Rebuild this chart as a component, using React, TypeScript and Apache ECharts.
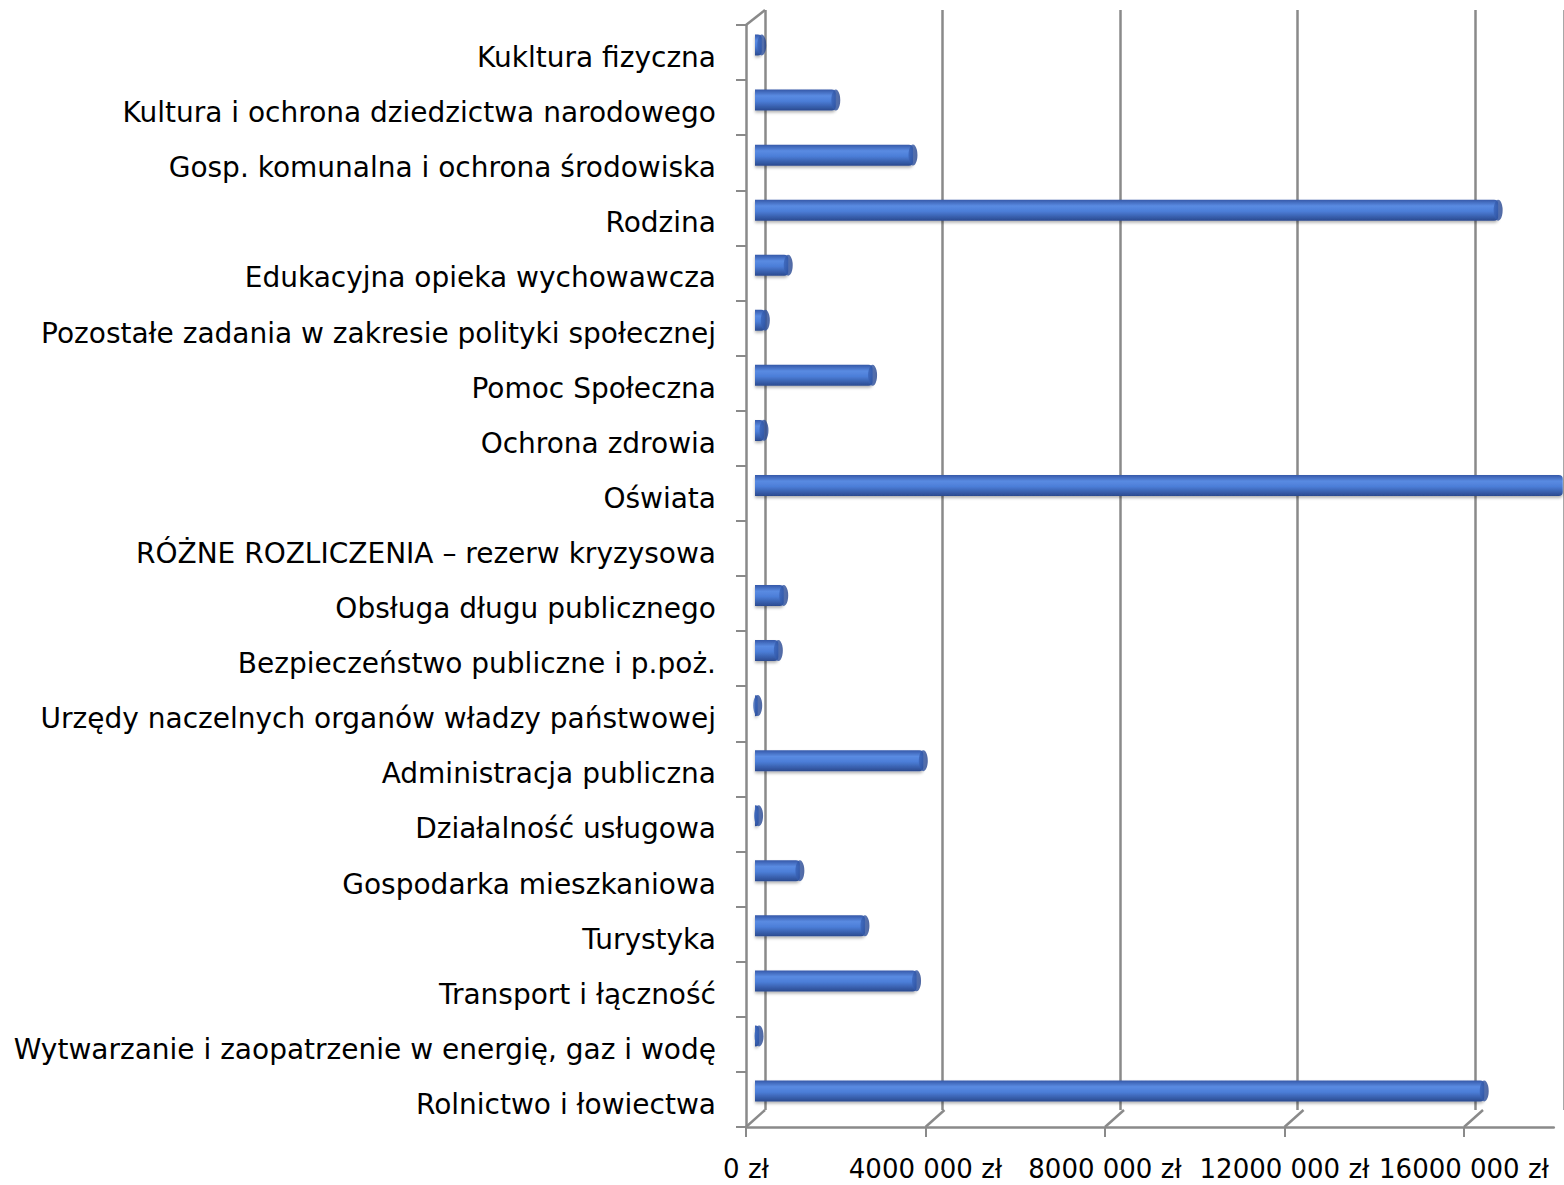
import React, { useEffect, useRef } from "react";
import * as echarts from "echarts";

// Categories listed bottom-to-top as they appear on the chart
const categories = [
  "Rolnictwo i łowiectwa",
  "Wytwarzanie i zaopatrzenie w energię, gaz i wodę",
  "Transport i łączność",
  "Turystyka",
  "Gospodarka mieszkaniowa",
  "Działalność usługowa",
  "Administracja publiczna",
  "Urzędy naczelnych organów władzy państwowej",
  "Bezpieczeństwo publiczne i p.poż.",
  "Obsługa długu publicznego",
  "RÓŻNE ROZLICZENIA – rezerw kryzysowa",
  "Oświata",
  "Ochrona zdrowia",
  "Pomoc Społeczna",
  "Pozostałe zadania w zakresie polityki społecznej",
  "Edukacyjna opieka wychowawcza",
  "Rodzina",
  "Gosp. komunalna i ochrona środowiska",
  "Kultura i ochrona dziedzictwa narodowego",
  "Kukltura fizyczna",
];

const values = [
  16250000, 90000, 3600000, 2450000, 1000000, 80000, 3750000, 60000, 520000, 640000,
  0, 18600000, 200000, 2620000, 230000, 740000, 16560000, 3520000, 1800000, 150000,
];

const tickValues = [0, 4000000, 8000000, 12000000, 16000000];
const tickLabels = ["0 zł", "4000 000 zł", "8000 000 zł", "12000 000 zł", "16000 000 zł"];

const AXIS_MAX = 18000000;
const STEP = 4000000;

export default function App() {
  const ref = useRef<HTMLDivElement>(null);
  useEffect(() => {
    if (!ref.current) return;
    const chart = echarts.init(ref.current, null, { renderer: "svg" });
    const pxPerStep = 179.5;
    const plotW = (AXIS_MAX / STEP) * pxPerStep;
    const backL = 765, backT = 10, backB = 1110;
    const frontL = 746, frontT = 25, frontB = 1127;
    const gray = "#8a8a8a";
    const font = "'DejaVu Sans', sans-serif";

    const floorDiagonals = tickValues.map((v) => {
      const dx = (v / STEP) * pxPerStep;
      return {
        type: "line",
        silent: true,
        z: 1,
        shape: { x1: backL + dx, y1: backB, x2: frontL + dx, y2: frontB },
        style: { stroke: gray, lineWidth: 2.5 },
      };
    });

    chart.setOption({
      animation: false,
      grid: [
        { left: backL, top: backT, width: plotW, height: backB - backT },
        { left: frontL, top: frontT, width: plotW, height: frontB - frontT },
        { left: 755, top: 17.5, width: plotW, height: 1101 },
        { left: frontL, top: frontT + 5, width: plotW, height: frontB - frontT },
      ],
      xAxis: [
        {
          gridIndex: 0,
          type: "value",
          min: 0,
          max: AXIS_MAX,
          interval: STEP,
          axisLine: { show: false },
          axisTick: { show: false },
          axisLabel: { show: false },
          splitLine: { show: true, lineStyle: { color: gray, width: 2.5 } },
        },
        {
          gridIndex: 1,
          type: "value",
          min: 0,
          max: AXIS_MAX,
          interval: STEP,
          axisLine: { show: true, lineStyle: { color: gray, width: 2.5 } },
          axisTick: {
            show: true,
            length: 10,
            customValues: tickValues,
            lineStyle: { color: gray, width: 2 },
          },
          axisLabel: {
            show: true,
            margin: 29,
            customValues: tickValues,
            hideOverlap: false,
            showMinLabel: true,
            showMaxLabel: true,
            formatter: (v: number) => tickLabels[tickValues.indexOf(v)] ?? "",
            color: "#000",
            fontSize: 26,
            fontFamily: font,
          },
          splitLine: { show: false },
        },
        {
          gridIndex: 2,
          type: "value",
          min: 0,
          max: AXIS_MAX,
          show: false,
        },
        {
          gridIndex: 3,
          type: "value",
          min: 0,
          max: AXIS_MAX,
          show: false,
        },
      ],
      yAxis: [
        {
          gridIndex: 0,
          type: "category",
          data: categories,
          show: false,
        },
        {
          gridIndex: 1,
          type: "category",
          data: categories,
          axisLine: { show: true, lineStyle: { color: gray, width: 2.5 } },
          axisTick: { show: true, length: 10, lineStyle: { color: gray, width: 2 } },
          axisLabel: { show: false },
        },
        {
          gridIndex: 2,
          type: "category",
          data: categories,
          show: false,
        },
        {
          gridIndex: 3,
          type: "category",
          data: categories,
          axisLine: { show: false },
          axisTick: { show: false },
          axisLabel: {
            margin: 30,
            color: "#000",
            fontSize: 28,
            fontFamily: font,
          },
        },
      ],
      graphic: [
        {
          type: "line",
          silent: true,
          shape: { x1: frontL, y1: frontT, x2: backL, y2: backT },
          style: { stroke: gray, lineWidth: 2.5 },
        },
        ...floorDiagonals,
      ],
      series: [
        {
          type: "bar",
          xAxisIndex: 2,
          yAxisIndex: 2,
          data: values,
          barWidth: 21,
          clip: true,
          itemStyle: {
            color: new echarts.graphic.LinearGradient(0, 0, 0, 1, [
              { offset: 0, color: "#3558a8" },
              { offset: 0.3, color: "#5a8be2" },
              { offset: 0.55, color: "#4c7ed8" },
              { offset: 1, color: "#2b4a8f" },
            ]),
            borderRadius: [0, 4, 4, 0],
            shadowColor: "rgba(0,0,0,0.3)",
            shadowBlur: 3,
            shadowOffsetY: 2,
          },
        },
        {
          type: "scatter",
          xAxisIndex: 2,
          yAxisIndex: 2,
          data: values.map((v) => (v > 0 ? v : null)),
          symbol: "circle",
          symbolSize: [9, 21],
          clip: true,
          z: 3,
          itemStyle: {
            color: new echarts.graphic.LinearGradient(0, 0, 1, 0, [
              { offset: 0, color: "#3a64b8" },
              { offset: 1, color: "#23418a" },
            ]),
          },
        },
      ],
    });
    return () => chart.dispose();
  }, []);
  return (
    <div
      ref={ref}
      style={{ position: "absolute", left: 0, top: 0, width: 1564, height: 1185, background: "#fff" }}
    />
  );
}
